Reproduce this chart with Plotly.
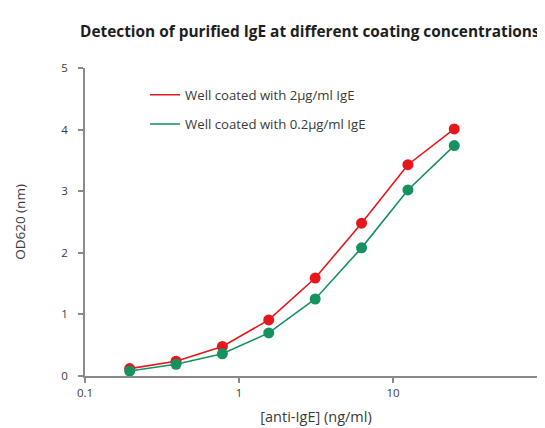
import plotly.graph_objects as go

conc = [0.195, 0.39, 0.78, 1.56, 3.125, 6.25, 12.5, 25]
od_2ug = [0.12, 0.24, 0.48, 0.91, 1.59, 2.48, 3.43, 4.01]
od_02ug = [0.08, 0.19, 0.36, 0.70, 1.25, 2.08, 3.02, 3.74]
series_names = ["Well coated with 2µg/ml IgE", "Well coated with 0.2µg/ml IgE"]
x_ticks = [0.1, 1, 10, 100]
x_tick_text = ["0.1", "1", "10", "100"]
y_ticks = [0, 1, 2, 3, 4, 5]

RED = "#e6161d"
GREEN = "#169160"
FONT = "Open Sans"
TXT = "#3a3a3a"

fig = go.Figure()
for i, (ys, name, col) in enumerate([(od_2ug, series_names[0], RED), (od_02ug, series_names[1], GREEN)]):
    fig.add_trace(go.Scatter(
        x=conc, y=ys, name=name, mode="lines+markers",
        line=dict(color=col, width=1.6),
        marker=dict(color=col, size=11),
        cliponaxis=False, showlegend=False,
    ))
    # legend entry shows the line only
    fig.add_trace(go.Scatter(
        x=[None], y=[None], name=name, mode="lines",
        line=dict(color=col, width=1.6), legendgroup=f"g{i}",
    ))

axis_common = dict(
    showline=True, linecolor="#8a8a8a", linewidth=1.8,
    ticks="outside", tickcolor="#8a8a8a", ticklen=5, tickwidth=1.5,
    showgrid=False, zeroline=False,
    tickfont=dict(family=FONT, size=11.5, color=TXT),
    automargin=False, ticklabeloverflow="allow",
)

fig.update_layout(
    width=545, height=428,
    paper_bgcolor="white", plot_bgcolor="white",
    margin=dict(l=77, r=6, t=60, b=60),
    showlegend=True,
    legend=dict(x=0.13, y=0.962, xanchor="left", yanchor="top",
                font=dict(family=FONT, size=13.2, color=TXT),
                bgcolor="rgba(0,0,0,0)", tracegroupgap=9, itemwidth=30),
    title=dict(
        text="<b>Detection of purified IgE at different coating concentrations</b>",
        xref="container", yref="container", x=72 / 545, xanchor="left",
        y=1 - 24 / 428, yanchor="middle",
        font=dict(family=FONT, size=15.4, color="#1e1e1e"),
    ),
    xaxis=dict(type="log", range=[-1, 2], tickvals=x_ticks, ticktext=x_tick_text,
               title=dict(text="[anti-IgE] (ng/ml)", font=dict(family=FONT, size=14.5, color=TXT), standoff=13),
               **axis_common),
    yaxis=dict(range=[0, 5], tickvals=y_ticks, ticklabelstandoff=8,
               title=dict(text="OD620 (nm)", font=dict(family=FONT, size=13.5, color=TXT), standoff=32),
               **axis_common),
)

fig.write_html("out.html")
